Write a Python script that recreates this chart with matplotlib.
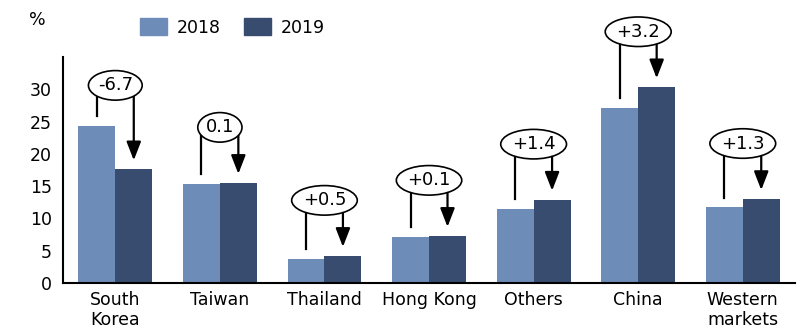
import matplotlib.pyplot as plt
from matplotlib.patches import Patch
import numpy as np

# data
markets = ["South\nKorea", "Taiwan", "Thailand", "Hong Kong", "Others", "China", "Western\nmarkets"]
share_2018 = [24.3, 15.4, 3.7, 7.2, 11.5, 27.1, 11.7]
share_2019 = [17.6, 15.5, 4.2, 7.3, 12.9, 30.3, 13.0]
change_labels = ["-6.7", "0.1", "+0.5", "+0.1", "+1.4", "+3.2", "+1.3"]

c18 = "#6d8cb8"
c19 = "#374c6e"

plt.rcParams['font.family'] = ['DejaVu Sans']
plt.rcParams['font.size'] = 12.5

fig = plt.figure(figsize=(8.08, 3.33), dpi=100)
ax = fig.add_axes([0.078, 0.150, 0.906, 0.679])

x = np.arange(len(markets))
w = 0.353
ax.bar(x - w / 2, share_2018, w, color=c18, zorder=2)
ax.bar(x + w / 2, share_2019, w, color=c19, zorder=2)

# change bubbles with connector + arrow
for i in range(len(markets)):
    a, b = share_2018[i], share_2019[i]
    top = max(a, b)
    gap = 6.3 if i == 0 else 8.6
    ly = top + gap
    x1, x2 = x[i] - w / 2, x[i] + w / 2
    ax.plot([x1, x1], [a + 1.5, ly], color="black", lw=1.6, zorder=3, clip_on=False)
    ax.annotate("", xy=(x2, b + 1.4), xytext=(x2, ly),
                arrowprops=dict(arrowstyle="-|>,head_width=0.35,head_length=0.9",
                                color="black", lw=1.6, shrinkA=0, shrinkB=0),
                zorder=3, annotation_clip=False)
    ax.text(x[i], ly, change_labels[i], ha="center", va="center", fontsize=13, zorder=5,
            bbox=dict(boxstyle="ellipse,pad=0.08", fc="white", ec="black", lw=1.2),
            clip_on=False)

ax.set_xlim(-0.5, 6.5)
ax.set_ylim(0, 35)
ax.set_yticks([0, 5, 10, 15, 20, 25, 30])
ax.set_xticks(x)
ax.set_xticklabels(markets, linespacing=1.15)
ax.tick_params(length=0, pad=8)
ax.tick_params(axis='x', pad=6)
for s in ["top", "right"]:
    ax.spines[s].set_visible(False)
for s in ["left", "bottom"]:
    ax.spines[s].set_linewidth(1.5)

fig.text(0.036, 0.94, "%", fontsize=12.5, ha="left", va="center")

handles = [Patch(color=c18, label="2018"), Patch(color=c19, label="2019")]
fig.legend(handles=handles, loc="center left", bbox_to_anchor=(0.173, 0.918), ncol=2,
           frameon=False, handlelength=1.55, handleheight=1.15, handletextpad=0.6,
           columnspacing=1.3, fontsize=12.5, borderaxespad=0, borderpad=0)

fig.savefig("out.png", dpi=100)
